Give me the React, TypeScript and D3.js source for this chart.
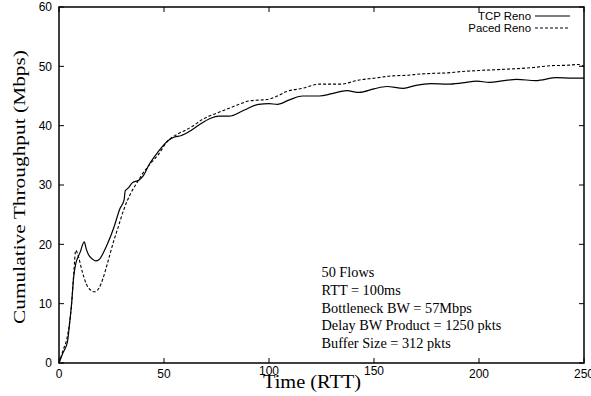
import React from 'react';
import * as d3 from 'd3';

// Time (RTT) and cumulative throughput (Mbps)
const renoTime = [0, 2, 4, 5, 6, 7, 8, 9, 10, 12, 13, 14, 16, 17.5, 19, 21, 23, 26, 29, 31, 31.5, 33, 35, 38, 40, 43, 47, 52, 55, 58, 62, 67, 72, 76, 81, 88, 95, 100, 104, 110, 116, 124, 130, 137, 143, 150, 156, 164, 170, 177, 185, 192, 199, 205, 212, 218, 227, 237, 244, 250];
const renoTput = [0, 1.8, 3.5, 6.5, 10, 14.5, 16.8, 17.8, 18.6, 20.4, 19.2, 18.3, 17.5, 17.2, 17.4, 18.5, 20, 22.7, 26, 27.5, 29, 29.5, 30.4, 30.8, 31.5, 33.5, 35.5, 37.5, 38.1, 38.3, 39, 40.2, 41.2, 41.6, 41.6, 42.6, 43.6, 43.7, 43.6, 44.4, 45, 45, 45.4, 45.9, 45.6, 46.2, 46.6, 46.3, 46.8, 47.1, 47, 47.2, 47.5, 47.3, 47.6, 47.8, 47.6, 48.1, 48, 48];

const pacedTime = [0, 2, 4, 6, 7, 8, 9, 11, 13, 15, 17, 19, 21, 23, 26, 28, 31, 34, 37, 40, 44, 47, 52, 56, 60, 64, 68, 75, 80, 85, 91, 99, 104, 108, 116, 124, 134, 143, 150, 159, 166, 172, 177, 185, 191, 200, 212, 226, 234, 243, 247, 250];
const pacedTput = [0, 2.2, 4.5, 10, 15, 19, 18.2, 15.5, 13.3, 12.3, 12, 12.6, 14.3, 16.7, 20.5, 22.7, 26, 28.5, 30.3, 32, 33.8, 35, 37.5, 38.5, 39.2, 40, 41, 42.1, 42.8, 43.5, 44.2, 44.4, 45, 45.7, 46.3, 47, 47, 47.7, 48, 48.4, 48.5, 48.7, 48.8, 48.9, 49.1, 49.3, 49.5, 49.8, 50.1, 50.2, 50.3, 50];

const xTicks = [0, 50, 100, 150, 200, 250];
const yTicks = [0, 10, 20, 30, 40, 50, 60];

const notes = [
  '50 Flows',
  'RTT = 100ms',
  'Bottleneck BW = 57Mbps',
  'Delay BW Product = 1250 pkts',
  'Buffer Size = 312 pkts',
];

const W = 591;
const H = 396;
const sans = 'Liberation Sans, Arial, Helvetica, sans-serif';
const serif = 'Liberation Serif, Times New Roman, serif';

export default function App() {
  const x = d3.scaleLinear().domain([0, 250]).range([59, 584]);
  const y = d3.scaleLinear().domain([0, 60]).range([363, 7]);

  const line = d3.line<[number, number]>()
    .x(d => x(d[0]))
    .y(d => y(d[1]))
    .curve(d3.curveMonotoneX);

  const reno = renoTime.map((t, i) => [t, renoTput[i]] as [number, number]);
  const paced = pacedTime.map((t, i) => [t, pacedTput[i]] as [number, number]);

  const [x0, x1] = x.range();
  const [y0, y1] = y.range();
  const tick = 5;

  return (
    <svg width={W} height={H} style={{ position: 'absolute', left: 0, top: 0, background: '#fff' }}>
      {/* ticks, mirrored on all four sides like gnuplot */}
      <g stroke="#000" strokeWidth={1}>
        {yTicks.map(v => (
          <g key={'y' + v}>
            <line x1={x0} x2={x0 + tick} y1={y(v)} y2={y(v)} />
            <line x1={x1} x2={x1 - tick} y1={y(v)} y2={y(v)} />
          </g>
        ))}
        {xTicks.map(v => (
          <g key={'x' + v}>
            <line x1={x(v)} x2={x(v)} y1={y0} y2={y0 - tick} />
            <line x1={x(v)} x2={x(v)} y1={y1} y2={y1 + tick} />
          </g>
        ))}
      </g>

      <g fontFamily={sans} fontSize={12} fill="#000">
        {yTicks.map(v => (
          <text key={'yl' + v} x={x0 - 7} y={y(v) + 4.3} textAnchor="end">{v}</text>
        ))}
        {xTicks.map(v => (
          <text key={'xl' + v} x={x(v)} y={v === 100 || v === 150 ? 375 : 378} textAnchor="middle">{v}</text>
        ))}
      </g>

      {/* data */}
      <path d={line(reno) ?? ''} fill="none" stroke="#000" strokeWidth={1.2} />
      <path d={line(paced) ?? ''} fill="none" stroke="#000" strokeWidth={1.1} strokeDasharray="3,2" />

      {/* frame */}
      <rect x={x0} y={y1} width={x1 - x0} height={y0 - y1} fill="none" stroke="#000" strokeWidth={1.5} />

      {/* legend */}
      <g fontFamily={sans} fontSize={11.4} fill="#000">
        <text x={531} y={20} textAnchor="end">TCP Reno</text>
        <text x={531} y={31.5} textAnchor="end">Paced Reno</text>
      </g>
      <line x1={535} x2={570} y1={16} y2={16} stroke="#000" strokeWidth={1.2} />
      <line x1={535} x2={570} y1={28} y2={28} stroke="#000" strokeWidth={1.1} strokeDasharray="3,2" />

      {/* annotation */}
      <g fontFamily={serif} fontSize={14.3} fill="#000">
        {notes.map((n, i) => (
          <text key={n} x={321.5} y={277 + i * 17.8}>{n}</text>
        ))}
      </g>

      {/* axis titles */}
      <text x={263} y={388} fontFamily={serif} fontSize={18} fill="#000"
        textLength={98} lengthAdjust="spacingAndGlyphs">Time (RTT)</text>
      <text
        transform={`translate(25,187) rotate(-90)`}
        textAnchor="middle"
        fontFamily={serif}
        fontSize={17.5}
        fill="#000"
        textLength={274}
        lengthAdjust="spacingAndGlyphs"
      >
        Cumulative Throughput (Mbps)
      </text>
    </svg>
  );
}
